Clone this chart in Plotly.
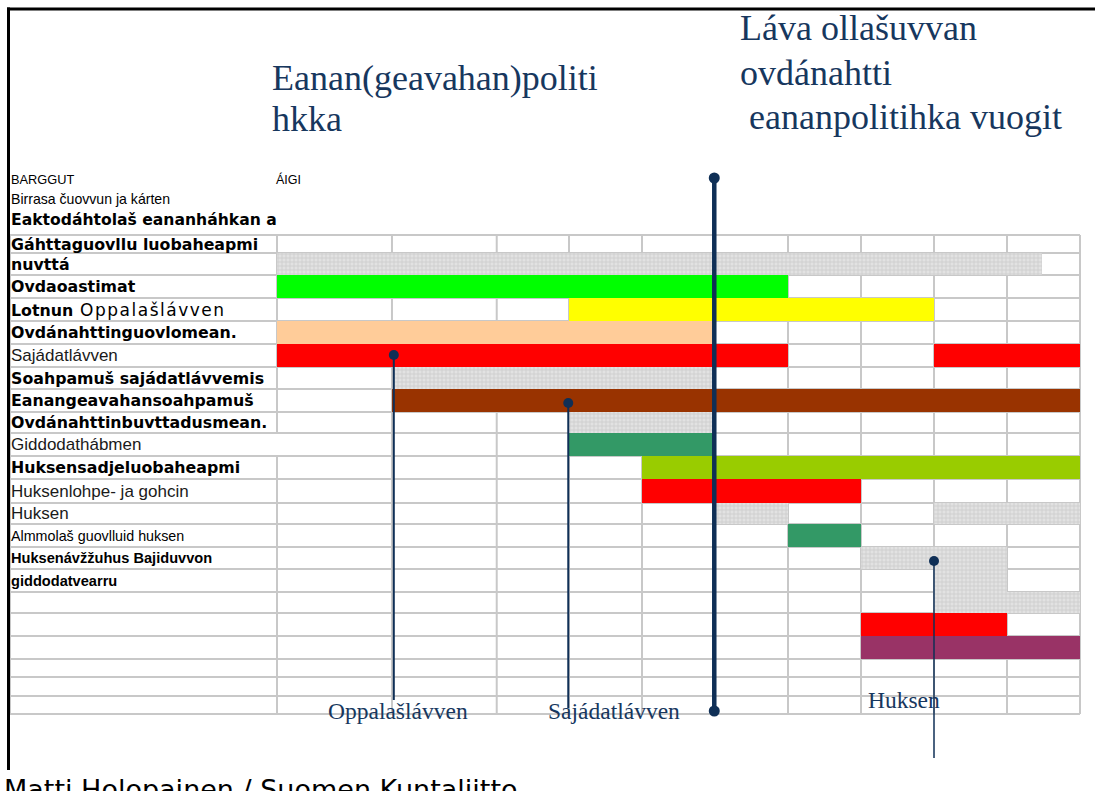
import plotly.graph_objects as go

# ---------------- data ----------------
# grid rows, top to bottom
ROW_LABELS = [
    "<b>Gáhttaguovllu luobaheapmi</b>", "<b>nuvttá</b>", "<b>Ovdaoastimat</b>",
    "<b>Lotnun</b><span style='font-size:17px;letter-spacing:1.5px'> Oppalašlávven</span>",
    "<b>Ovdánahttinguovlomean.</b>", "Sajádatlávven",
    "<b>Soahpamuš sajádatlávvemis</b>", "<b>Eanangeavahansoahpamuš</b>",
    "<b>Ovdánahttinbuvttadusmean.</b>", "Giddodathábmen", "<b>Huksensadjeluobaheapmi</b>",
    "Huksenlohpe- ja gohcin", "Huksen", "Almmolaš guovlluid huksen",
    "<b>Huksenávžžuhus Bajiduvvon</b>", "<b>giddodatvearru</b>",
]
ROW_LABEL_STYLE = ["bold", "bold", "bold", "mixed", "bold", "plain", "bold", "bold",
                   "bold", "plain", "bold", "plain", "plain", "narrow", "narrow", "narrow"]
HEADER_LABELS = ["BARGGUT", "ÁIGI"]
TOP_LABELS = ["Birrasa čuovvun ja kárten", "<b>Eaktodáhtolaš eananháhkan a</b>"]

# bars: row index, start, end (time units = grid columns), kind
BAR_ROW = [1, 2, 3, 4, 5, 5, 6, 7, 8, 9, 10, 11, 12, 12, 13, 14, 15, 16, 17, 18]
BAR_START = [0, 0, 4, 0, 0, 9, 1.6, 1.575, 4, 4, 5, 5, 6, 9, 7, 8, 9, 9, 8, 8]
BAR_END = [10.48, 7, 9, 6, 7, 11, 6, 11, 6, 6, 11, 8, 7, 11, 8, 10, 10, 11, 10, 11]
BAR_KIND = ["gray", "green", "yellow", "peach", "red", "red", "gray", "brown", "gray",
            "teal", "lime", "red", "gray", "gray", "teal", "gray", "gray", "gray",
            "red", "purple"]

# grid column edges (time units)
COL_EDGES = [0, 1.575, 3.01, 4, 5, 6, 7, 8, 9, 10, 11]

# milestones
MS_NAMES = ["Oppalašlávven", "Sajádatlávven", "", "Huksen"]
MS_AT = [1.6, 3.99, 5.99, 9.0]

TITLE_LEFT = ["Eanan(geavahan)politi", "hkka"]
TITLE_RIGHT = ["Láva ollašuvvan", "ovdánahtti", " eananpolitihka vuogit"]
FOOTER = "Matti Holopainen / Suomen Kuntaliitto"

# ---------------- layout / style ----------------
W, H = 1095, 791
X0PX, UNIT = 277, 73.0          # pixel of time 0, pixels per unit
ROW_EDGES = [235, 253, 275, 298, 321, 344, 367, 389, 412, 433, 456, 479, 503, 524,
             547, 569, 592, 613, 636, 659, 677, 696, 714]
LEFT_EDGE = (10 - X0PX) / UNIT
NAVY = "#0f2f56"
TITLE_C = "#17375e"
GRID_C = "#c8c8c8"
COLORS = {"green": "#00ff00", "yellow": "#ffff00", "peach": "#ffcc99", "red": "#ff0000",
          "brown": "#993300", "teal": "#339966", "lime": "#99cc00", "purple": "#993366",
          "gray": "#dcdcdc"}
WIDE = "DejaVu Sans"
SANS = "Liberation Sans, Arial, sans-serif"
NARROW = "Liberation Sans Narrow, Arial Narrow, Liberation Sans"
SERIF = "Liberation Serif, Times New Roman, serif"

def px(xp):
    return xp / W

fig = go.Figure()

# grid (shapes below traces)
shapes = []
for y in ROW_EDGES:
    shapes.append(dict(type="line", xref="x", yref="y", x0=LEFT_EDGE, x1=COL_EDGES[-1],
                       y0=y, y1=y, line=dict(color=GRID_C, width=2), layer="below"))
for xe in [LEFT_EDGE] + COL_EDGES:
    if xe == 0:
        segs = [(ROW_EDGES[0], ROW_EDGES[9]), (ROW_EDGES[10], ROW_EDGES[-1])]
    else:
        segs = [(ROW_EDGES[0], ROW_EDGES[-1])]
    for a, b in segs:
        shapes.append(dict(type="line", xref="x", yref="y", x0=xe, x1=xe, y0=a, y1=b,
                           line=dict(color=GRID_C, width=2), layer="below"))
# slide frame
shapes.append(dict(type="line", xref="paper", yref="paper", x0=px(7), x1=1,
                   y0=1 - 9 / H, y1=1 - 9 / H, line=dict(color="black", width=3)))
shapes.append(dict(type="line", xref="paper", yref="paper", x0=px(8.5), x1=px(8.5),
                   y0=1 - 7.5 / H, y1=1 - 770 / H, line=dict(color="black", width=3)))

# bars
for kind in ["green", "yellow", "peach", "red", "brown", "teal", "lime", "purple", "gray"]:
    idx = [i for i, k in enumerate(BAR_KIND) if k == kind]
    if not idx:
        continue
    ys = [(ROW_EDGES[BAR_ROW[i]] + ROW_EDGES[BAR_ROW[i] + 1]) / 2 for i in idx]
    hs = [ROW_EDGES[BAR_ROW[i] + 1] - ROW_EDGES[BAR_ROW[i]] for i in idx]
    marker = dict(color=COLORS[kind], line=dict(width=0))
    if kind == "gray":
        marker["pattern"] = dict(shape="+", fgcolor="#bdbdbd", bgcolor="#e2e2e2",
                                 size=4, solidity=0.45)
    fig.add_trace(go.Bar(
        orientation="h", y=ys, width=hs,
        base=[BAR_START[i] for i in idx],
        x=[BAR_END[i] - BAR_START[i] for i in idx],
        marker=marker, showlegend=False, hoverinfo="skip"))

# milestone lines
MS_TOP = [355, 403, 178, 561]
MS_BOT = [700, 708, 711, 758]
MS_W = [2, 2, 4.5, 1.5]
MS_DOTS = [[10, 0], [10, 0], [11, 11], [10, 0]]
for i in range(len(MS_AT)):
    fig.add_trace(go.Scatter(
        x=[MS_AT[i], MS_AT[i]], y=[MS_TOP[i], MS_BOT[i]], mode="lines+markers",
        line=dict(color=NAVY, width=MS_W[i]),
        marker=dict(color=NAVY, size=MS_DOTS[i], opacity=1, line=dict(width=0)),
        showlegend=False, hoverinfo="skip"))

ann = []
LABEL_X = px(9)
# row labels
for i, lab in enumerate(ROW_LABELS):
    yc = (ROW_EDGES[i] + ROW_EDGES[i + 1]) / 2
    st = ROW_LABEL_STYLE[i]
    if st in ("bold", "mixed"):
        f = dict(family=WIDE, size=15.8, color="black")
    elif st == "plain":
        f = dict(family=SANS, size=17, color="#1a1a1a")
    else:
        f = dict(family=NARROW, size=14.6 if "<b>" in lab else 14.3, color="black")
    ann.append(dict(x=LABEL_X, xref="paper", y=yc, yref="y", text=lab, showarrow=False,
                    xanchor="left", yanchor="middle", font=f))
ann.append(dict(x=LABEL_X, xref="paper", y=179, yref="y", text=HEADER_LABELS[0],
                showarrow=False, xanchor="left", yanchor="middle",
                font=dict(family=NARROW, size=12.8, color="black")))
ann.append(dict(x=px(274), xref="paper", y=179, yref="y", text=HEADER_LABELS[1],
                showarrow=False, xanchor="left", yanchor="middle",
                font=dict(family=NARROW, size=12.5, color="black")))
ann.append(dict(x=LABEL_X, xref="paper", y=199, yref="y", text=TOP_LABELS[0],
                showarrow=False, xanchor="left", yanchor="middle",
                font=dict(family=NARROW, size=14.1, color="black")))
ann.append(dict(x=LABEL_X, xref="paper", y=220, yref="y", text=TOP_LABELS[1],
                showarrow=False, xanchor="left", yanchor="middle",
                font=dict(family=WIDE, size=15.6, color="black")))

# milestone names
MS_LABEL_POS = [(398, 711), (614, 711), None, (904, 700)]
for name, pos in zip(MS_NAMES, MS_LABEL_POS):
    if pos is None:
        continue
    ann.append(dict(x=px(pos[0]), xref="paper", y=pos[1], yref="y", text=name,
                    showarrow=False, xanchor="center", yanchor="middle",
                    font=dict(family=SERIF, size=23.5, color=TITLE_C)))

# titles
for j, t in enumerate(TITLE_LEFT):
    ann.append(dict(x=px(270), xref="paper", y=78 + 41 * j, yref="y", text=t,
                    showarrow=False, xanchor="left", yanchor="middle",
                    font=dict(family=SERIF, size=36, color=TITLE_C)))
for j, t in enumerate(TITLE_RIGHT):
    ann.append(dict(x=px(738), xref="paper", y=28 + 44.5 * j, yref="y",
                    text=t.replace(" ", "&nbsp;", 1) if t.startswith(" ") else t,
                    showarrow=False, xanchor="left", yanchor="middle",
                    font=dict(family=SERIF, size=36, color=TITLE_C)))

ann.append(dict(x=px(2), xref="paper", y=772, yref="y", text=FOOTER, showarrow=False,
                xanchor="left", yanchor="top",
                font=dict(family="DejaVu Sans", size=27, color="black")))

fig.update_layout(
    width=W, height=H, margin=dict(l=0, r=0, t=0, b=0, pad=0),
    paper_bgcolor="white", plot_bgcolor="white",
    barmode="overlay", bargap=0, showlegend=False,
    xaxis=dict(range=[-X0PX / UNIT, (W - X0PX) / UNIT], visible=False, fixedrange=True),
    yaxis=dict(range=[H, 0], visible=False, fixedrange=True),
    shapes=shapes, annotations=ann,
)

fig.write_html("out.html", config={"displayModeBar": False},
               post_script="document.body.style.margin='0px';"
                           "document.body.style.overflow='hidden';")
